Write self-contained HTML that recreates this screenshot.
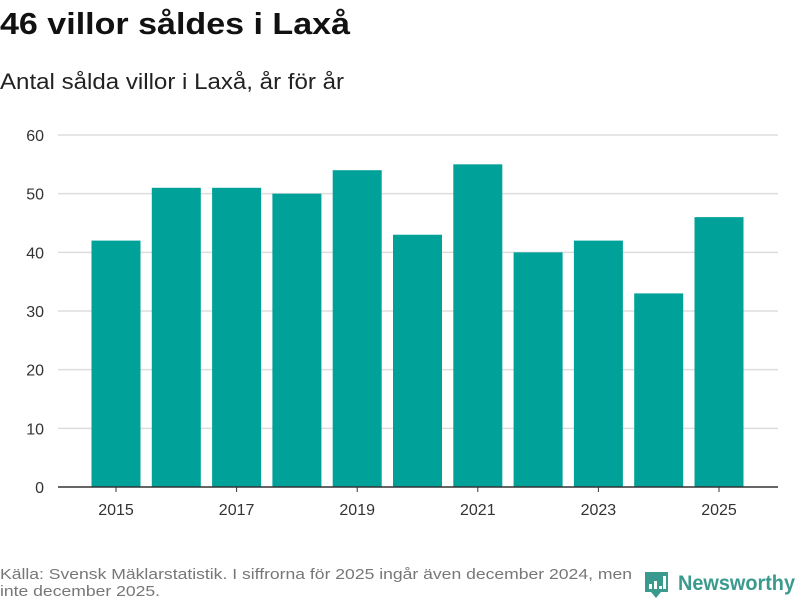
<!DOCTYPE html>
<html><head><meta charset="utf-8"><style>
html,body{margin:0;padding:0;background:#fff;}
svg{display:block;font-family:"Liberation Sans","DejaVu Sans",sans-serif;}
</style></head><body>
<svg id="chart" width="800" height="600" viewBox="0 0 800 600">
<text x="0" y="34" font-size="31" font-weight="bold" fill="#111" textLength="350" lengthAdjust="spacingAndGlyphs">46 villor såldes i Laxå</text>
<text x="0" y="89" font-size="22" fill="#222" textLength="344" lengthAdjust="spacingAndGlyphs">Antal sålda villor i Laxå, år för år</text>
<g id="grid"></g><g id="bars"></g><g id="xaxis"></g>
<text x="0" y="579" font-size="15" fill="#777" textLength="632" lengthAdjust="spacingAndGlyphs">Källa: Svensk Mäklarstatistik. I siffrorna för 2025 ingår även december 2024, men</text>
<text x="0" y="596" font-size="15" fill="#777" textLength="160" lengthAdjust="spacingAndGlyphs">inte december 2025.</text>
<g>
<path d="M645 572 h23 v20 h-7 l-5 6 l-5 -6 h-6 z" fill="#3a9a8e"/>
<rect x="649" y="584" width="3" height="5" fill="#fff"/><rect x="654" y="581" width="3" height="8" fill="#fff"/><rect x="659" y="586" width="3" height="3" fill="#fff"/><rect x="663" y="576" width="3" height="13" fill="#fff"/>
<text x="678" y="590" font-size="21" font-weight="bold" fill="#3a9a8e" textLength="117" lengthAdjust="spacingAndGlyphs">Newsworthy</text>
</g>
</svg>
<script>
const categories=["2015","2016","2017","2018","2019","2020","2021","2022","2023","2024","2025"];
const values=[42,51,51,50,54,43,55,40,42,33,46];
const yTicks=[0,10,20,30,40,50,60];
const xLabels=["2015","2017","2019","2021","2023","2025"];
const NS="http://www.w3.org/2000/svg";
const plotLeft=58,plotRight=778,plotTop=135,plotBottom=487,yMax=60;
const bandLeft=85.85,bandRight=749.15;
const step=(bandRight-bandLeft)/categories.length;
const yScale=v=>plotBottom-(v/yMax)*(plotBottom-plotTop);
const xScale=i=>bandLeft+step*(i+0.5);
function mk(t,a,p){const e=document.createElementNS(NS,t);for(const k in a)e.setAttribute(k,a[k]);p.appendChild(e);return e;}
const grid=document.getElementById('grid'),bars=document.getElementById('bars'),xa=document.getElementById('xaxis');
yTicks.forEach(t=>{
 if(t>0){const l=mk('line',{x1:plotLeft,x2:plotRight,y1:yScale(t),y2:yScale(t),stroke:'#ddd','stroke-width':1.5},grid);
 
 }
 const tx=mk('text',{x:44,y:yScale(t)+6,'font-size':16,fill:'#333','text-anchor':'end'},grid);tx.textContent=t;
 
 
});
values.forEach((v,i)=>{
 const r=mk('rect',{x:xScale(i)-24.5,y:yScale(v),width:49,height:plotBottom-yScale(v),fill:'#00a198'},bars);
 
 
});
const ax=mk('line',{x1:plotLeft,x2:plotRight,y1:plotBottom,y2:plotBottom,stroke:'#333','stroke-width':1.5},xa);


xLabels.forEach(lb=>{
 const i=categories.indexOf(lb);
 mk('line',{x1:xScale(i),x2:xScale(i),y1:plotBottom,y2:plotBottom+5,stroke:'#333'},xa);
 const t=mk('text',{x:xScale(i),y:515,'font-size':16,fill:'#333','text-anchor':'middle'},xa);t.textContent=lb;
 
 
});
</script>
</body></html>
